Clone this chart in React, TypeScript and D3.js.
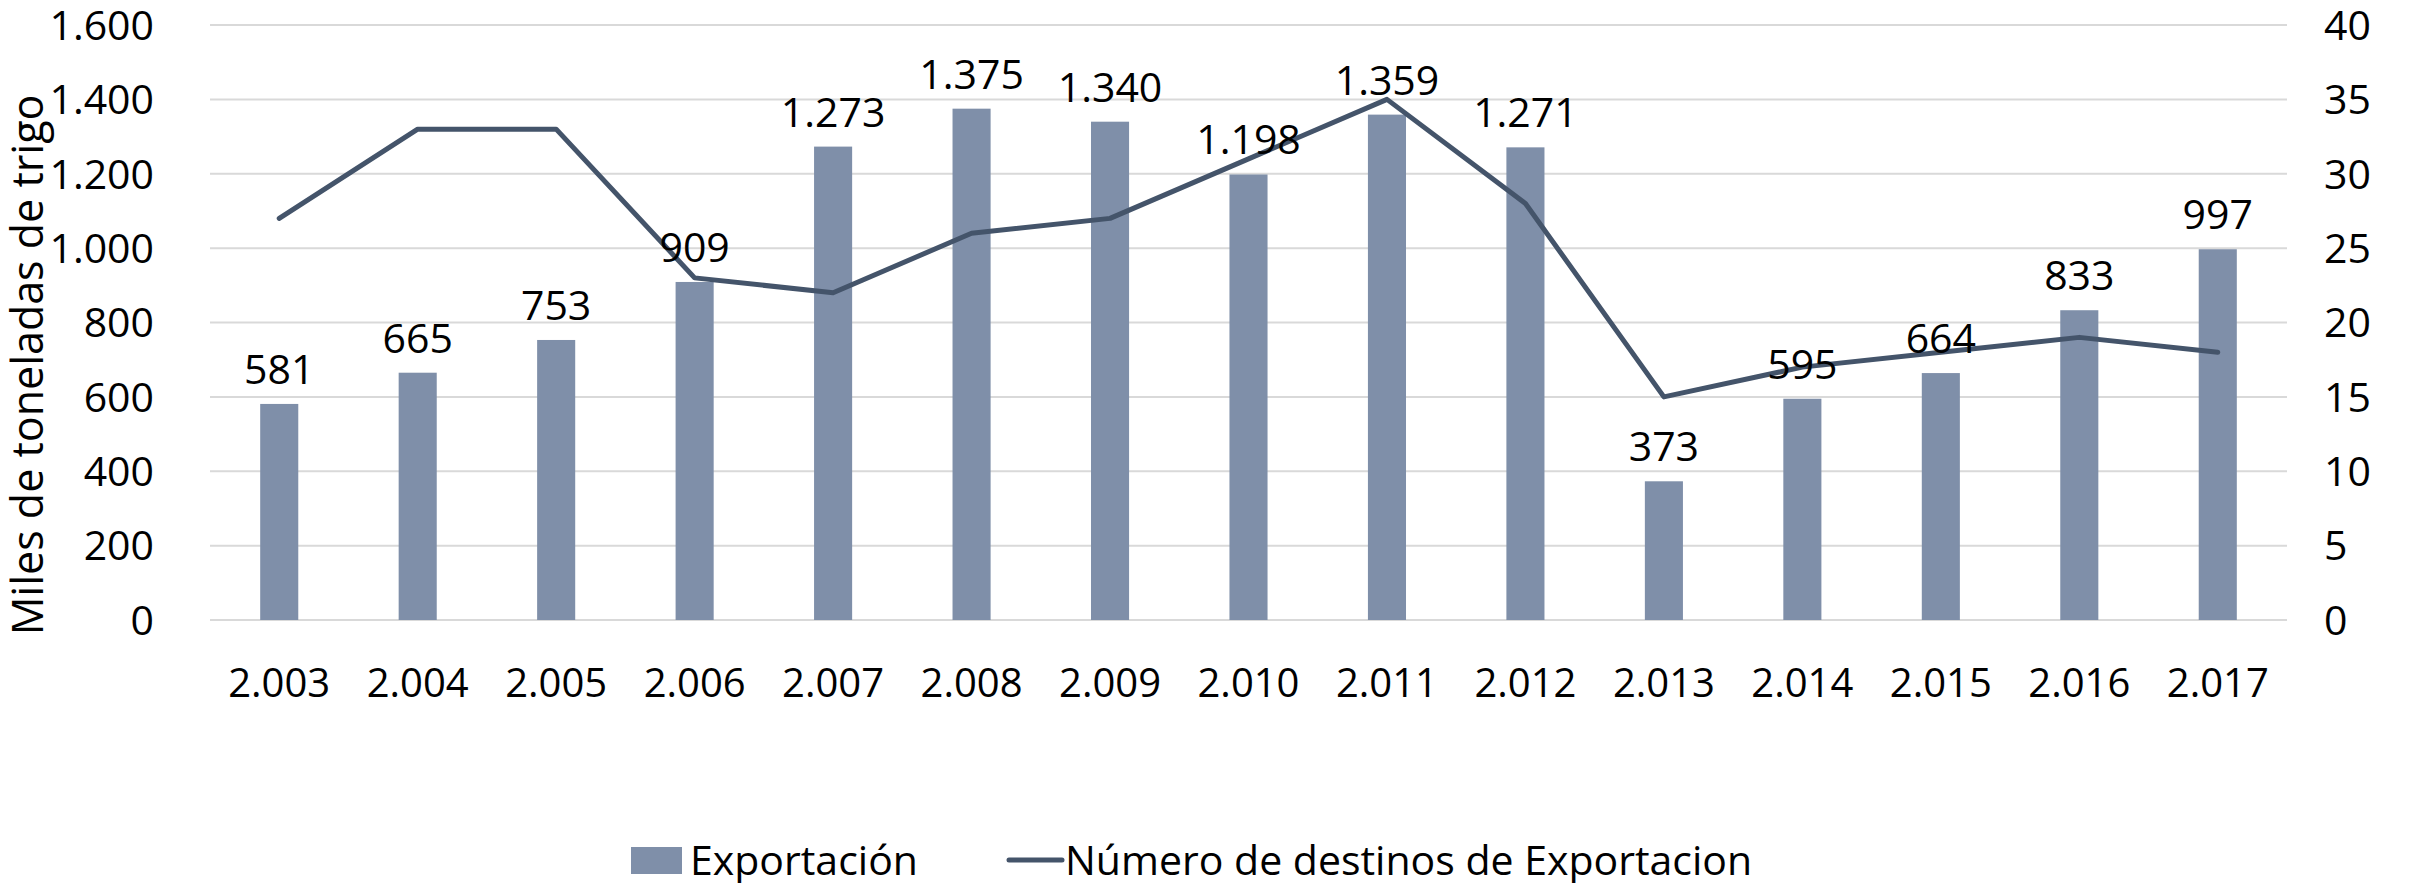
import React from "react";
import * as d3 from "d3";

const years = ["2.003", "2.004", "2.005", "2.006", "2.007", "2.008", "2.009", "2.010", "2.011", "2.012", "2.013", "2.014", "2.015", "2.016", "2.017"];
const exportacion = [581, 665, 753, 909, 1273, 1375, 1340, 1198, 1359, 1271, 373, 595, 664, 833, 997];
const destinos = [27, 33, 33, 23, 22, 26, 27, 31, 35, 28, 15, 17, 18, 19, 18];
const leftTicks = [0, 200, 400, 600, 800, 1000, 1200, 1400, 1600];
const rightTicks = [0, 5, 10, 15, 20, 25, 30, 35, 40];

const fmt = (v: number) => d3.format(",")(v).replace(/,/g, ".");

const W = 2410;
const H = 883;
const margin = { top: 25, right: 123, bottom: 263, left: 210 };
const FONT = "'Open Sans', 'DejaVu Sans', sans-serif";

export default function App() {
  const x = d3
    .scaleBand()
    .domain(years)
    .range([margin.left, W - margin.right])
    .paddingInner(0.725)
    .paddingOuter(0.3625);
  const yL = d3.scaleLinear().domain([0, 1600]).range([H - margin.bottom, margin.top]);
  const yR = d3.scaleLinear().domain([0, 40]).range([H - margin.bottom, margin.top]);
  const cx = (yr: string) => (x(yr) as number) + x.bandwidth() / 2;

  const line = d3
    .line<number>()
    .x((_, i) => cx(years[i]))
    .y((d) => yR(d));

  const legendY = 860;

  return (
    <svg width={W} height={H} style={{ position: "absolute", left: 0, top: 0, background: "#fff" }}>
      {/* gridlines */}
      <g>
        {leftTicks.map((t) => (
          <line key={t} x1={margin.left} x2={W - margin.right} y1={yL(t)} y2={yL(t)} stroke="#d9d9d9" strokeWidth={2} />
        ))}
      </g>
      <g>
        {exportacion.map((v, i) => (
          <rect key={i} x={x(years[i])} y={yL(v)} width={x.bandwidth()} height={yL(0) - yL(v)} fill="#7f8fa9" />
        ))}
      </g>
      <path d={line(destinos) || ""} fill="none" stroke="#44546a" strokeWidth={5} strokeLinejoin="round" strokeLinecap="round" />
      {/* data labels */}
      <g fontFamily={FONT} fontSize={41} fill="#000">
        {exportacion.map((v, i) => (
          <text key={i} x={cx(years[i])} y={yL(v) - 20} textAnchor="middle">
            {fmt(v)}
          </text>
        ))}
      </g>
      {/* axes */}
      <g fontFamily={FONT} fontSize={41} fill="#000">
        {leftTicks.map((t) => (
          <text key={t} x={154} y={yL(t)} dy="0.36em" textAnchor="end">
            {fmt(t)}
          </text>
        ))}
        {rightTicks.map((t) => (
          <text key={t} x={2324} y={yR(t)} dy="0.36em" textAnchor="start">
            {t}
          </text>
        ))}
      </g>
      <g fontFamily={FONT} fontSize={40} fill="#000">
        {years.map((yr) => (
          <text key={yr} x={cx(yr)} y={683} dy="0.36em" textAnchor="middle">
            {yr}
          </text>
        ))}
      </g>
      <text transform="translate(43, 365) rotate(-90)" fontFamily={FONT} fontSize={43} textAnchor="middle" fill="#000">
        Miles de toneladas de trigo
      </text>
      {/* legend */}
      <g fontFamily={FONT} fontSize={41} fill="#000">
        <rect x={631} y={legendY - 13} width={51} height={27} fill="#7f8fa9" />
        <text x={690} y={legendY} dy="0.36em">
          Exportación
        </text>
        <line x1={1009} x2={1062} y1={legendY} y2={legendY} stroke="#44546a" strokeWidth={5} strokeLinecap="round" />
        <text x={1065} y={legendY} dy="0.36em">
          Número de destinos de Exportacion
        </text>
      </g>
    </svg>
  );
}
